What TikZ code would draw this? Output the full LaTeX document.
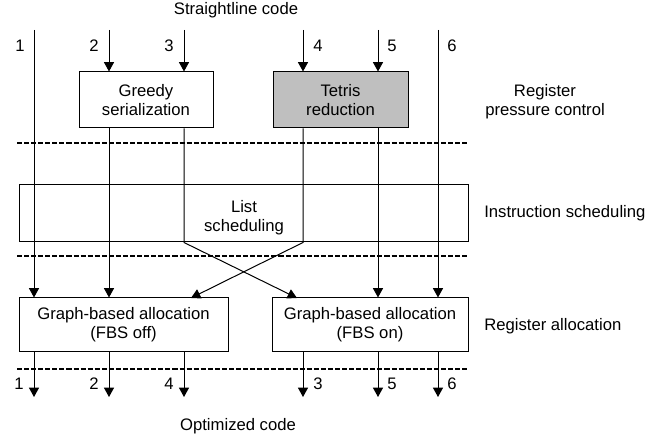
\documentclass[tikz,border=0pt]{standalone}
\usepackage{fontspec}
\setmainfont{Liberation Sans}
\usetikzlibrary{arrows.meta}
\tikzset{
  stage/.style={draw, line width=0.75pt, inner sep=0pt, align=center},
  boxsize/.style 2 args={minimum width=#1*0.75pt, minimum height=#2*0.75pt},
  flow/.style={line width=0.75pt, -{Triangle[width=7.5pt,length=7pt]}},
  divider/.style={line width=2.2pt, dash pattern=on 3.8pt off 1.5pt},
  num/.style={anchor=base},
}

\begin{document}
\begin{tikzpicture}[x=0.75pt, y=-0.75pt, font=\fontsize{12.5}{14}\selectfont]
\useasboundingbox (0,0) rectangle (662,438);
\foreach \n/\x in {1/34, 2/109, 3/184, 4/303, 5/378, 6/438} {
  \coordinate (t\n) at (\x,30);
}
\foreach \n/\x in {1/34, 2/109, 4/184, 3/303, 5/378, 6/438} {
  \coordinate (o\n) at (\x,397);
}
\coordinate (x3) at (297,298);
\coordinate (x4) at (191,298);
\foreach \y in {143, 256, 369} {
  \draw[divider] (17,\y) -- (469,\y);
}
\node[stage, boxsize={134}{56}] (greedy) at (146,100) {Greedy\\serialization};
\node[stage, boxsize={135}{56}, fill=gray!50] (tetris) at (340.5,100) {Tetris\\reduction};
\node[stage, boxsize={449}{57}] (listsched) at (243.5,213.5) {};
\node[align=center] (listtext) at (244,218) {List\\scheduling};
\node[stage, boxsize={209}{54}] (alloff) at (123.5,325) {Graph-based allocation\\(FBS off)};
\node[stage, boxsize={196}{54}] (allon) at (370,325) {Graph-based allocation\\(FBS on)};
\draw[flow] (t1) -- (t1 |- alloff.north);
\draw[flow] (t2) -- (t2 |- greedy.north);
\draw[flow] (t3) -- (t3 |- greedy.north);
\draw[flow] (t4) -- (t4 |- tetris.north);
\draw[flow] (t5) -- (t5 |- tetris.north);
\draw[flow] (t6) -- (t6 |- allon.north);
\draw[flow] (t2 |- greedy.south) -- (t2 |- alloff.north);
\draw[flow] (t3 |- greedy.south) -- (t3 |- listsched.south) -- (x3);
\draw[flow] (t4 |- tetris.south) -- (t4 |- listsched.south) -- (x4);
\draw[flow] (t5 |- tetris.south) -- (t5 |- allon.north);
\foreach \n in {1, 2, 4} {
  \draw[flow] (o\n |- alloff.south) -- (o\n);
}
\foreach \n in {3, 5, 6} {
  \draw[flow] (o\n |- allon.south) -- (o\n);
}
\foreach \n/\x in {1/20, 2/94, 3/169, 4/318, 5/392, 6/452} {
  \node[num] (n\n) at (\x,52) {\n};
}
\foreach \n/\x in {1/19, 2/94, 4/169, 3/318, 5/392, 6/452} {
  \node[num] (m\n) at (\x,390) {\n};
}
\node[anchor=base] (input) at (236,15) {Straightline code};
\node[anchor=base] (output) at (238,431) {Optimized code};
\node[align=center] (pressure) at (545,102) {Register\\pressure control};
\node[anchor=base west, inner sep=0pt] (sched) at (484,218) {Instruction scheduling};
\node[anchor=base west, inner sep=0pt] (alloc) at (484,331) {Register allocation};
\end{tikzpicture}
\end{document}
